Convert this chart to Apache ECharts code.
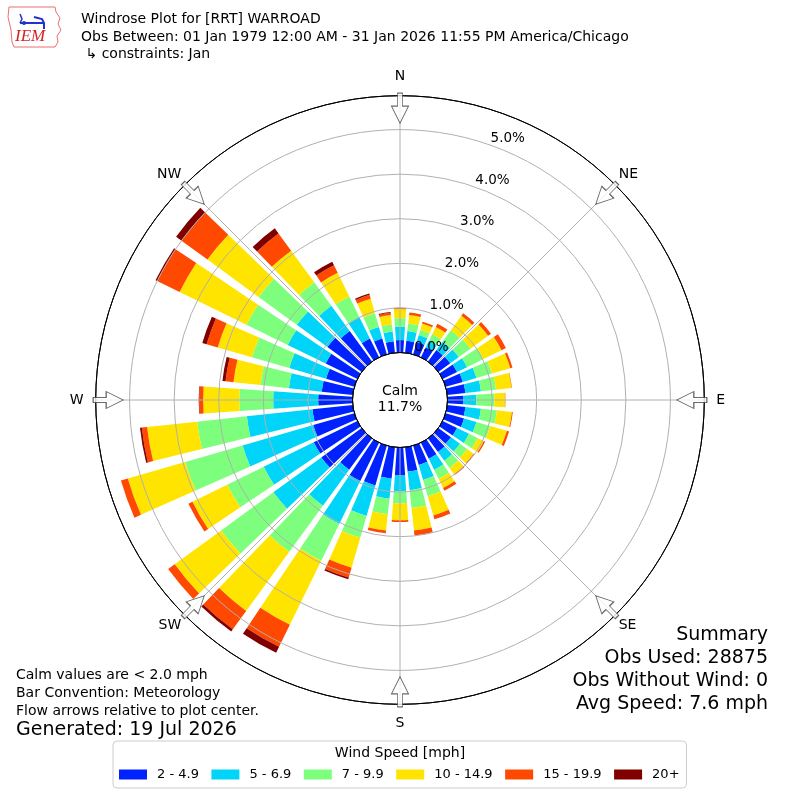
<!DOCTYPE html>
<html><head><meta charset="utf-8">
<script src="https://cdn.jsdelivr.net/npm/echarts@6/dist/echarts.min.js"></script>
<style>html,body{margin:0;padding:0;background:#fff}#c{width:800px;height:800px}</style>
</head><body><div id="c"></div>
<script>
// ---- data ----
const directions = ['0','10','20','30','40','50','60','70','80','90','100','110','120','130','140','150','160','170',
  '180','190','200','210','220','230','240','250','260','270','280','290','300','310','320','330','340','350'];
const speedBins = ['2 - 4.9','5 - 6.9','7 - 9.9','10 - 14.9','15 - 19.9','20+'];
const binColors = ['#0022ff','#00d4f8','#7dff7d','#ffe400','#ff4800','#800000'];
const s2to5   = [.28,.27,.29,.25,.32,.33,.36,.40,.41,.35,.41,.43,.36,.35,.38,.40,.45,.55,.63,.71,.93,.96,.87,1.12,1.09,.96,.91,.77,.70,.66,.79,.95,.85,.47,.37,.26];
const s5to7   = [.30,.22,.16,.17,.23,.24,.25,.32,.35,.30,.35,.29,.30,.25,.24,.28,.35,.42,.35,.45,.71,1.07,1.00,1.33,1.25,1.65,1.48,1.01,.74,.86,.95,.85,.70,.54,.27,.22];
const s7to10  = [.19,.17,.12,.16,.32,.32,.41,.36,.34,.40,.36,.32,.22,.20,.20,.22,.38,.40,.27,.35,.51,.92,1.28,1.45,.91,1.34,1.12,.76,.64,.87,1.03,1.06,.65,.51,.32,.16];
const s10to15 = [.205,.19,.15,.18,.40,.49,.45,.43,.35,.24,.34,.39,.15,.18,.18,.23,.45,.51,.38,.37,.70,1.60,1.64,1.29,.87,1.34,1.13,.81,.61,.80,1.67,1.42,.88,.59,.34,.21];
const s15to20 = [.025,.06,.04,.08,.07,.08,.11,.05,.01,.01,.02,.05,.03,.02,.02,.07,.09,.11,.04,.06,.23,.55,.51,.18,.10,.16,.12,.09,.18,.26,.56,.72,.48,.19,.09,.05];
const s20plus = [.005,0,0,0,0,0,0,0,0,0,0,0,0,0,0,0,0,0,0,0,.04,.15,.06,0,0,0,.04,.01,.07,.10,.04,.15,.14,.09,.03,.02];
const radialMax = 5.76;
const compassLabels = ['N','NE','E','SE','S','SW','W','NW'];
const arrowAngles = [0,45,90,135,180,225,270,315];
const arrowRadius = 5.48;
const calmPct = 11.7;
const titleLines = ['Windrose Plot for [RRT] WARROAD',
  'Obs Between: 01 Jan 1979 12:00 AM - 31 Jan 2026 11:55 PM America/Chicago',
  ' \u21B3 constraints: Jan'];
const noteLines = ['Calm values are < 2.0 mph','Bar Convention: Meteorology','Flow arrows relative to plot center.'];
const generatedText = 'Generated: 19 Jul 2026';
const summaryLines = ['Summary','Obs Used: 28875','Obs Without Wind: 0','Avg Speed: 7.6 mph'];

// ---- chart ----
const FONT = '"DejaVu Sans", Verdana, sans-serif';
const R = [47.5, 304.3];
const chart = echarts.init(document.getElementById('c'), null, {renderer: 'canvas'});
const binData = [s2to5, s5to7, s7to10, s10to15, s15to20, s20plus];

const hiddenAngle = (idx, start, extra) => Object.assign({
  polarIndex: idx, startAngle: start, clockwise: true,
  axisLine: {show: false}, axisTick: {show: false}, axisLabel: {show: false}, splitLine: {show: false}
}, extra || {});
const hiddenRadius = (idx, extra) => Object.assign({
  polarIndex: idx, type: 'value', min: 0, max: radialMax,
  axisLine: {show: false}, axisTick: {show: false}, axisLabel: {show: false}, splitLine: {show: false}
}, extra || {});

const barSeries = speedBins.map((name, i) => ({
  name, type: 'bar', coordinateSystem: 'polar', polarIndex: 0, stack: 'wind',
  data: binData[i], barCategoryGap: '22%', itemStyle: {color: binColors[i]}, z: -1, silent: true
}));

const option = {
  animation: false,
  textStyle: {fontFamily: FONT},
  polar: [
    {center: ['50%', '50%'], radius: R, z: -1},
    {center: ['50%', '50%'], radius: R, z: 5},
    {center: ['50%', '50%'], radius: R, z: 8},
    {center: ['50%', '50%'], radius: R, z: 8}
  ],
  angleAxis: [
    hiddenAngle(0, 95, {type: 'category', data: directions, boundaryGap: true, z: -1}),
    {
      polarIndex: 1, type: 'value', min: 0, max: 360, interval: 45, startAngle: 90, clockwise: true, z: 5,
      axisLine: {show: true, lineStyle: {color: '#000', width: 1}},
      axisTick: {show: false},
      axisLabel: {show: true, margin: 12, fontSize: 14, color: '#000', fontFamily: FONT,
        formatter: v => { const k = Math.round(v / 45); return k % 2 === 0 ? (compassLabels[k] || '') : ''; }},
      splitLine: {show: true, lineStyle: {color: '#b0b0b0', width: 1}}
    },
    hiddenAngle(2, 70, {type: 'value', min: 0, max: 360, z: 8}),
    hiddenAngle(3, 90, {type: 'value', min: 0, max: 360, interval: 45, z: 8,
      axisLabel: {show: true, margin: 5, fontSize: 14, color: '#000', fontFamily: FONT,
        formatter: v => { const k = Math.round(v / 45); return k % 2 === 1 ? (compassLabels[k] || '') : ''; }}})
  ],
  radiusAxis: [
    hiddenRadius(0, {z: -1}),
    hiddenRadius(1, {interval: 1, z: 5,
      splitLine: {show: true, lineStyle: {width: 1,
        color: ['#000000', '#b0b0b0', '#b0b0b0', '#b0b0b0', '#b0b0b0', '#b0b0b0', '#000000']}}}),
    hiddenRadius(2, {interval: 1, z: 8,
      axisLabel: {show: true, margin: 2, fontSize: 13.5, color: '#000', fontFamily: FONT,
        align: 'left', verticalAlign: 'bottom', showMaxLabel: false,
        formatter: v => (Math.abs(v - Math.round(v)) < 1e-6 ? v.toFixed(1) + '%' : '')}}),
    hiddenRadius(3, {z: 8})
  ],
  legend: {
    data: speedBins, left: 113, top: 741, orient: 'horizontal',
    itemWidth: 28, itemHeight: 10, itemGap: 12.5, icon: 'rect',
    padding: [27, 7, 7, 6], borderColor: '#cccccc', borderWidth: 1, borderRadius: 4,
    backgroundColor: '#ffffff', selectedMode: false,
    textStyle: {fontSize: 13, color: '#000', fontFamily: FONT, padding: [0, 0, 0, 5]}
  },
  title: [
    {text: titleLines.join('\n'), left: 81, top: 11, padding: 0,
      textStyle: {fontSize: 14, fontWeight: 'normal', color: '#000', lineHeight: 17.5, fontFamily: FONT}},
    {text: 'Calm\n' + calmPct.toFixed(1) + '%', left: 400, top: 383, padding: 0, textAlign: 'center', z: 10,
      textStyle: {fontSize: 14, fontWeight: 'normal', color: '#000', lineHeight: 16, fontFamily: FONT}},
    {text: noteLines.join('\n'), left: 16, top: 666, padding: 0,
      textStyle: {fontSize: 14, fontWeight: 'normal', color: '#000', lineHeight: 18, fontFamily: FONT}},
    {text: generatedText, left: 16, top: 719, padding: 0,
      textStyle: {fontSize: 19, fontWeight: 'normal', color: '#000', lineHeight: 22, fontFamily: FONT}},
    {text: summaryLines.join('\n'), left: 768, top: 623, padding: 0, textAlign: 'right',
      textStyle: {fontSize: 19, fontWeight: 'normal', color: '#000', lineHeight: 23.3, fontFamily: FONT}},
    {text: 'Wind Speed [mph]', left: 400, top: 745, padding: 0, textAlign: 'center', z: 10,
      textStyle: {fontSize: 14, fontWeight: 'normal', color: '#000', lineHeight: 16, fontFamily: FONT}}
  ],
  graphic: [
    {type: 'polygon', shape: {points: [[9,7],[55,7],[56,12],[60,18],[58,24],[61,30],[57,36],[58,42],[55,47],[14,47],[12,42],[11,30],[8,17]]},
      style: {fill: '#fff', stroke: '#e87070', lineWidth: 1}},
    {type: 'text', x: 15, y: 28, style: {text: 'IEM', font: 'italic 17px "Liberation Serif", serif', fill: '#d42222'}},
    {type: 'polyline', shape: {points: [[20,23],[44,23]]}, style: {stroke: '#2233cc', lineWidth: 2}},
    {type: 'polyline', shape: {points: [[20,14],[22,19],[20,23]]}, style: {stroke: '#2233cc', lineWidth: 1.5, fill: null}},
    {type: 'polyline', shape: {points: [[34,17],[42,19],[44,23],[44,29]]}, style: {stroke: '#2233cc', lineWidth: 2, fill: null}},
    {type: 'circle', shape: {cx: 24, cy: 23, r: 2}, style: {fill: '#2233cc'}}
  ],
  series: barSeries.concat([{
    type: 'scatter', coordinateSystem: 'polar', polarIndex: 1, z: 6, silent: true,
    symbol: 'path://M6 0 L11 0 L11 13 L17 13 L8.5 30 L0 13 L6 13 Z', symbolSize: [17, 30],
    itemStyle: {color: '#ffffff', borderColor: '#444444', borderWidth: 1},
    data: arrowAngles.map(a => ({value: [arrowRadius, a], symbolRotate: -a}))
  }])
};
chart.setOption(option);
</script>
</body></html>
